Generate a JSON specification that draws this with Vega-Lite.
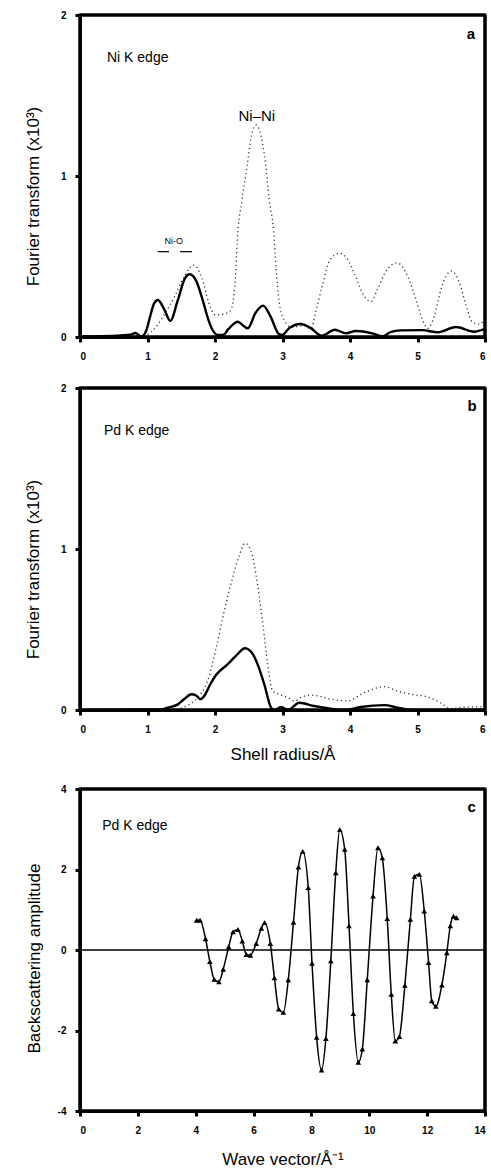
{
  "$schema": "https://vega.github.io/schema/vega-lite/v6.json",
  "padding": {"left": 22, "top": 8, "right": 0, "bottom": 0},
  "spacing": 18,
  "config": {
    "font": "Liberation Sans",
    "view": {"stroke": "#000000", "strokeWidth": 3},
    "axis": {"domain": true, "ticks": true, "domainColor": "#000000", "domainWidth": 3, "tickColor": "#000000", "tickWidth": 3, "tickSize": 5, "labelPadding": 9, "labelFont": "Liberation Sans", "labelFontWeight": "bold", "labelFontSize": 10, "labelColor": "black", "titleFont": "Liberation Sans", "titleFontWeight": "normal", "titleFontSize": 17, "titleColor": "black", "grid": false}
  },
  "datasets": {
    "aSolid": [
      {"x": 0, "y": 0.003}, {"x": 0.3, "y": 0.005}, {"x": 0.6, "y": 0.01}, {"x": 0.75, "y": 0.015}, {"x": 0.82, "y": 0.025}, {"x": 0.91, "y": 0.002}, {"x": 0.99, "y": 0.05}, {"x": 1.04, "y": 0.13}, {"x": 1.1, "y": 0.21}, {"x": 1.154, "y": 0.23}, {"x": 1.25, "y": 0.17}, {"x": 1.337, "y": 0.1}, {"x": 1.45, "y": 0.23}, {"x": 1.55, "y": 0.36}, {"x": 1.624, "y": 0.39}, {"x": 1.72, "y": 0.35}, {"x": 1.81, "y": 0.24}, {"x": 1.9, "y": 0.11}, {"x": 1.956, "y": 0.05}, {"x": 2.05, "y": 0.012}, {"x": 2.12, "y": 0.012}, {"x": 2.2, "y": 0.05}, {"x": 2.337, "y": 0.095}, {"x": 2.42, "y": 0.07}, {"x": 2.486, "y": 0.054}, {"x": 2.6, "y": 0.15}, {"x": 2.713, "y": 0.195}, {"x": 2.82, "y": 0.13}, {"x": 2.946, "y": 0.018}, {"x": 2.995, "y": 0.012}, {"x": 3.1, "y": 0.055}, {"x": 3.267, "y": 0.081}, {"x": 3.42, "y": 0.055}, {"x": 3.58, "y": 0.008}, {"x": 3.777, "y": 0.045}, {"x": 3.94, "y": 0.023}, {"x": 4.084, "y": 0.037}, {"x": 4.33, "y": 0.023}, {"x": 4.48, "y": 0.004}, {"x": 4.6, "y": 0.03}, {"x": 4.75, "y": 0.041}, {"x": 5.07, "y": 0.043}, {"x": 5.3, "y": 0.029}, {"x": 5.57, "y": 0.062}, {"x": 5.84, "y": 0.033}, {"x": 6.0, "y": 0.05}
    ],
    "aDot": [
      {"x": 0.95, "y": 0}, {"x": 1.05, "y": 0.03}, {"x": 1.14, "y": 0.07}, {"x": 1.25, "y": 0.14}, {"x": 1.4, "y": 0.25}, {"x": 1.55, "y": 0.38}, {"x": 1.683, "y": 0.447}, {"x": 1.81, "y": 0.36}, {"x": 1.906, "y": 0.215}, {"x": 2.005, "y": 0.137}, {"x": 2.13, "y": 0.143}, {"x": 2.23, "y": 0.163}, {"x": 2.3, "y": 0.35}, {"x": 2.33, "y": 0.6}, {"x": 2.4, "y": 0.85}, {"x": 2.475, "y": 1.06}, {"x": 2.55, "y": 1.27}, {"x": 2.61, "y": 1.317}, {"x": 2.68, "y": 1.25}, {"x": 2.75, "y": 1.07}, {"x": 2.8, "y": 0.86}, {"x": 2.87, "y": 0.65}, {"x": 2.9, "y": 0.46}, {"x": 2.95, "y": 0.22}, {"x": 3.02, "y": 0.11}, {"x": 3.14, "y": 0.06}, {"x": 3.32, "y": 0.07}, {"x": 3.42, "y": 0.05}, {"x": 3.49, "y": 0.153}, {"x": 3.59, "y": 0.32}, {"x": 3.71, "y": 0.484}, {"x": 3.84, "y": 0.52}, {"x": 3.96, "y": 0.484}, {"x": 4.08, "y": 0.38}, {"x": 4.18, "y": 0.277}, {"x": 4.31, "y": 0.22}, {"x": 4.41, "y": 0.3}, {"x": 4.55, "y": 0.42}, {"x": 4.7, "y": 0.46}, {"x": 4.85, "y": 0.38}, {"x": 4.975, "y": 0.236}, {"x": 5.07, "y": 0.11}, {"x": 5.15, "y": 0.054}, {"x": 5.25, "y": 0.13}, {"x": 5.35, "y": 0.3}, {"x": 5.5, "y": 0.41}, {"x": 5.62, "y": 0.34}, {"x": 5.72, "y": 0.195}, {"x": 5.82, "y": 0.09}, {"x": 5.92, "y": 0.08}, {"x": 6.0, "y": 0.12}
    ],
    "abH": [{"y": 0}, {"y": 2}],
    "abV": [{"x": 0}, {"x": 6}],
    "aPanel": [{"x": 5.79, "y": 1.88, "t": "a"}],
    "aEdge": [{"x": 0.4, "y": 1.73, "t": "Ni  K edge"}],
    "aPeak": [{"x": 2.62, "y": 1.37, "t": "Ni–Ni"}],
    "aSmall": [{"x": 1.39, "y": 0.594, "t": "Ni-O"}],
    "aArrows": [
      {"x": 1.15, "x2": 1.32, "y": 0.53},
      {"x": 1.48, "x2": 1.66, "y": 0.53}
    ],
    "bSolid": [
      {"x": 0, "y": 0}, {"x": 1.2, "y": 0.003}, {"x": 1.3, "y": 0.015}, {"x": 1.45, "y": 0.035}, {"x": 1.55, "y": 0.07}, {"x": 1.65, "y": 0.098}, {"x": 1.72, "y": 0.09}, {"x": 1.785, "y": 0.067}, {"x": 1.84, "y": 0.087}, {"x": 1.93, "y": 0.16}, {"x": 2.02, "y": 0.22}, {"x": 2.19, "y": 0.285}, {"x": 2.31, "y": 0.336}, {"x": 2.445, "y": 0.384}, {"x": 2.56, "y": 0.347}, {"x": 2.63, "y": 0.285}, {"x": 2.73, "y": 0.16}, {"x": 2.83, "y": 0.015}, {"x": 2.88, "y": 0.0}, {"x": 2.98, "y": 0.019}, {"x": 3.08, "y": 0.0}, {"x": 3.25, "y": 0.045}, {"x": 3.47, "y": 0.025}, {"x": 3.62, "y": 0.015}, {"x": 3.92, "y": 0.0}, {"x": 4.16, "y": 0.019}, {"x": 4.51, "y": 0.03}, {"x": 4.7, "y": 0.015}, {"x": 4.95, "y": 0}, {"x": 6.0, "y": 0}
    ],
    "bDot": [
      {"x": 0, "y": 0}, {"x": 1.4, "y": 0.005}, {"x": 1.6, "y": 0.03}, {"x": 1.75, "y": 0.08}, {"x": 1.89, "y": 0.18}, {"x": 2.02, "y": 0.39}, {"x": 2.14, "y": 0.62}, {"x": 2.26, "y": 0.82}, {"x": 2.36, "y": 0.96}, {"x": 2.445, "y": 1.036}, {"x": 2.53, "y": 0.99}, {"x": 2.63, "y": 0.78}, {"x": 2.71, "y": 0.53}, {"x": 2.78, "y": 0.285}, {"x": 2.855, "y": 0.118}, {"x": 2.98, "y": 0.093}, {"x": 3.08, "y": 0.077}, {"x": 3.18, "y": 0.056}, {"x": 3.27, "y": 0.077}, {"x": 3.42, "y": 0.093}, {"x": 3.72, "y": 0.067}, {"x": 3.96, "y": 0.056}, {"x": 4.21, "y": 0.108}, {"x": 4.51, "y": 0.145}, {"x": 4.7, "y": 0.118}, {"x": 4.9, "y": 0.098}, {"x": 5.15, "y": 0.081}, {"x": 5.34, "y": 0.045}, {"x": 5.49, "y": 0.008}, {"x": 5.74, "y": 0.019}, {"x": 5.94, "y": 0.02}, {"x": 6.0, "y": 0.02}
    ],
    "bPanel": [{"x": 5.81, "y": 1.89, "t": "b"}],
    "bEdge": [{"x": 0.355, "y": 1.73, "t": "Pd  K edge"}],
    "cPts": [
      {"x": 4.03, "y": 0.74}, {"x": 4.15, "y": 0.74}, {"x": 4.34, "y": 0.28}, {"x": 4.49, "y": -0.29}, {"x": 4.64, "y": -0.73}, {"x": 4.8, "y": -0.79}, {"x": 4.95, "y": -0.48}, {"x": 5.14, "y": 0.08}, {"x": 5.29, "y": 0.45}, {"x": 5.46, "y": 0.51}, {"x": 5.61, "y": 0.22}, {"x": 5.75, "y": -0.11}, {"x": 5.89, "y": -0.13}, {"x": 6.09, "y": 0.16}, {"x": 6.27, "y": 0.54}, {"x": 6.38, "y": 0.68}, {"x": 6.58, "y": 0.16}, {"x": 6.72, "y": -0.69}, {"x": 6.87, "y": -1.47}, {"x": 7.03, "y": -1.55}, {"x": 7.2, "y": -0.74}, {"x": 7.38, "y": 0.69}, {"x": 7.55, "y": 2.06}, {"x": 7.7, "y": 2.45}, {"x": 7.89, "y": 1.55}, {"x": 8.02, "y": -0.33}, {"x": 8.18, "y": -2.17}, {"x": 8.35, "y": -2.98}, {"x": 8.5, "y": -2.2}, {"x": 8.67, "y": -0.27}, {"x": 8.84, "y": 1.92}, {"x": 8.98, "y": 2.99}, {"x": 9.15, "y": 2.5}, {"x": 9.3, "y": 0.6}, {"x": 9.45, "y": -1.58}, {"x": 9.62, "y": -2.79}, {"x": 9.76, "y": -2.46}, {"x": 9.93, "y": -0.74}, {"x": 10.13, "y": 1.34}, {"x": 10.3, "y": 2.54}, {"x": 10.45, "y": 2.29}, {"x": 10.62, "y": 0.78}, {"x": 10.76, "y": -1.1}, {"x": 10.9, "y": -2.26}, {"x": 11.04, "y": -2.15}, {"x": 11.23, "y": -0.88}, {"x": 11.42, "y": 0.76}, {"x": 11.56, "y": 1.83}, {"x": 11.73, "y": 1.88}, {"x": 11.9, "y": 0.97}, {"x": 12.05, "y": -0.31}, {"x": 12.16, "y": -1.26}, {"x": 12.3, "y": -1.4}, {"x": 12.51, "y": -0.87}, {"x": 12.68, "y": -0.07}, {"x": 12.8, "y": 0.6}, {"x": 12.91, "y": 0.84}, {"x": 13.02, "y": 0.8}
    ],
    "cZero": [{"y": 0}],
    "cH": [{"y": -4}, {"y": 4}],
    "cV": [{"x": 0}, {"x": 14}],
    "cPanel": [{"x": 13.54, "y": 3.55, "t": "c"}],
    "cEdge": [{"x": 0.77, "y": 3.08, "t": "Pd  K edge"}]
  },
  "vconcat": [
    {
      "width": 405, "height": 322,
      "layer": [
        {
          "data": {"name": "aDot"},
          "mark": {"type": "line", "interpolate": "monotone", "strokeWidth": 1.3, "strokeDash": [1.2, 3], "color": "#333"},
          "encoding": {
            "x": {"field": "x", "type": "quantitative", "scale": {"domain": [0, 6]}, "axis": {"values": [0, 1, 2, 3, 4, 5, 6], "title": null, "labelExpr": "'' + datum.value"}},
            "y": {"field": "y", "type": "quantitative", "scale": {"domain": [0, 2]}, "axis": {"values": [0, 1, 2], "title": "Fourier transform (x10³)", "titlePadding": 18, "titleY": 181, "labelExpr": "'' + datum.value"}}
          }
        },
        {
          "data": {"name": "aSolid"},
          "mark": {"type": "line", "interpolate": "monotone", "strokeWidth": 2.4, "color": "black"},
          "encoding": {"x": {"field": "x", "type": "quantitative"}, "y": {"field": "y", "type": "quantitative"}}
        },
        {
          "data": {"name": "abH"},
          "mark": {"type": "rule", "strokeWidth": 3, "color": "black"},
          "encoding": {"y": {"field": "y", "type": "quantitative"}}
        },
        {
          "data": {"name": "abV"},
          "mark": {"type": "rule", "strokeWidth": 3, "color": "black"},
          "encoding": {"x": {"field": "x", "type": "quantitative"}}
        },
        {
          "data": {"name": "aArrows"},
          "mark": {"type": "rule", "strokeWidth": 1.2, "color": "black"},
          "encoding": {"x": {"field": "x", "type": "quantitative"}, "x2": {"field": "x2"}, "y": {"field": "y", "type": "quantitative"}}
        },
        {
          "data": {"name": "aPanel"},
          "mark": {"type": "text", "fontSize": 15, "fontWeight": "bold", "align": "center", "baseline": "middle", "color": "black"},
          "encoding": {"x": {"field": "x", "type": "quantitative"}, "y": {"field": "y", "type": "quantitative"}, "text": {"field": "t"}}
        },
        {
          "data": {"name": "aEdge"},
          "mark": {"type": "text", "fontSize": 14, "align": "left", "baseline": "middle", "color": "black"},
          "encoding": {"x": {"field": "x", "type": "quantitative"}, "y": {"field": "y", "type": "quantitative"}, "text": {"field": "t"}}
        },
        {
          "data": {"name": "aPeak"},
          "mark": {"type": "text", "fontSize": 15, "align": "center", "baseline": "middle", "color": "black"},
          "encoding": {"x": {"field": "x", "type": "quantitative"}, "y": {"field": "y", "type": "quantitative"}, "text": {"field": "t"}}
        },
        {
          "data": {"name": "aSmall"},
          "mark": {"type": "text", "fontSize": 9, "align": "center", "baseline": "middle", "color": "black"},
          "encoding": {"x": {"field": "x", "type": "quantitative"}, "y": {"field": "y", "type": "quantitative"}, "text": {"field": "t"}}
        }
      ]
    },
    {
      "width": 405, "height": 322,
      "layer": [
        {
          "data": {"name": "bDot"},
          "mark": {"type": "line", "interpolate": "monotone", "strokeWidth": 1.3, "strokeDash": [1.2, 3], "color": "#333"},
          "encoding": {
            "x": {"field": "x", "type": "quantitative", "scale": {"domain": [0, 6]}, "axis": {"values": [0, 1, 2, 3, 4, 5, 6], "title": "Shell radius/Å", "titlePadding": 12, "labelExpr": "'' + datum.value"}},
            "y": {"field": "y", "type": "quantitative", "scale": {"domain": [0, 2]}, "axis": {"values": [0, 1, 2], "title": "Fourier transform (x10³)", "titlePadding": 18, "titleY": 181, "labelExpr": "'' + datum.value"}}
          }
        },
        {
          "data": {"name": "bSolid"},
          "mark": {"type": "line", "interpolate": "monotone", "strokeWidth": 2.4, "color": "black"},
          "encoding": {"x": {"field": "x", "type": "quantitative"}, "y": {"field": "y", "type": "quantitative"}}
        },
        {
          "data": {"name": "abH"},
          "mark": {"type": "rule", "strokeWidth": 3, "color": "black"},
          "encoding": {"y": {"field": "y", "type": "quantitative"}}
        },
        {
          "data": {"name": "abV"},
          "mark": {"type": "rule", "strokeWidth": 3, "color": "black"},
          "encoding": {"x": {"field": "x", "type": "quantitative"}}
        },
        {
          "data": {"name": "bPanel"},
          "mark": {"type": "text", "fontSize": 15, "fontWeight": "bold", "align": "center", "baseline": "middle", "color": "black"},
          "encoding": {"x": {"field": "x", "type": "quantitative"}, "y": {"field": "y", "type": "quantitative"}, "text": {"field": "t"}}
        },
        {
          "data": {"name": "bEdge"},
          "mark": {"type": "text", "fontSize": 14, "align": "left", "baseline": "middle", "color": "black"},
          "encoding": {"x": {"field": "x", "type": "quantitative"}, "y": {"field": "y", "type": "quantitative"}, "text": {"field": "t"}}
        }
      ]
    },
    {
      "width": 405, "height": 322,
      "layer": [
        {
          "data": {"name": "cZero"},
          "mark": {"type": "rule", "strokeWidth": 1.5, "color": "black"},
          "encoding": {"y": {"field": "y", "type": "quantitative"}}
        },
        {
          "data": {"name": "cPts"},
          "mark": {"type": "line", "interpolate": "monotone", "strokeWidth": 1.5, "color": "black"},
          "encoding": {
            "x": {"field": "x", "type": "quantitative", "scale": {"domain": [0, 14]}, "axis": {"values": [0, 2, 4, 6, 8, 10, 12, 14], "title": "Wave vector/Å⁻¹", "titlePadding": 16, "labelExpr": "'' + datum.value"}},
            "y": {"field": "y", "type": "quantitative", "scale": {"domain": [-4, 4]}, "axis": {"values": [-4, -2, 0, 2, 4], "title": "Backscattering amplitude", "titlePadding": 14, "titleY": 169, "labelExpr": "'' + datum.value"}}
          }
        },
        {
          "data": {"name": "cH"},
          "mark": {"type": "rule", "strokeWidth": 3, "color": "black"},
          "encoding": {"y": {"field": "y", "type": "quantitative"}}
        },
        {
          "data": {"name": "cV"},
          "mark": {"type": "rule", "strokeWidth": 3, "color": "black"},
          "encoding": {"x": {"field": "x", "type": "quantitative"}}
        },
        {
          "data": {"name": "cPts"},
          "mark": {"type": "point", "shape": "triangle-up", "filled": true, "size": 32, "color": "black", "opacity": 1},
          "encoding": {"x": {"field": "x", "type": "quantitative"}, "y": {"field": "y", "type": "quantitative"}}
        },
        {
          "data": {"name": "cPanel"},
          "mark": {"type": "text", "fontSize": 15, "fontWeight": "bold", "align": "center", "baseline": "middle", "color": "black"},
          "encoding": {"x": {"field": "x", "type": "quantitative"}, "y": {"field": "y", "type": "quantitative"}, "text": {"field": "t"}}
        },
        {
          "data": {"name": "cEdge"},
          "mark": {"type": "text", "fontSize": 14, "align": "left", "baseline": "middle", "color": "black"},
          "encoding": {"x": {"field": "x", "type": "quantitative"}, "y": {"field": "y", "type": "quantitative"}, "text": {"field": "t"}}
        }
      ]
    }
  ]
}
